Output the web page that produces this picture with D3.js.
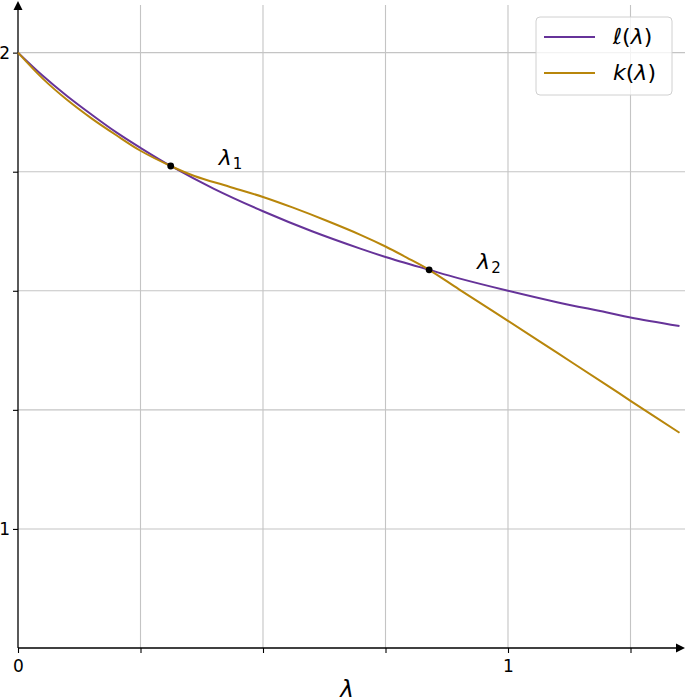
<!DOCTYPE html>
<html>
<head>
<meta charset="utf-8">
<script src="https://cdn.jsdelivr.net/npm/d3@7"></script>
<style>
  body { margin: 0; background: #fff; }
  svg { display: block; font-family: "DejaVu Sans", sans-serif; }
</style>
</head>
<body>
<svg id="chart" width="685" height="697"></svg>
<script>
// values
const ellLambdas = [0, 0.05, 0.1, 0.15, 0.2, 0.25, 0.3116, 0.4, 0.5, 0.6, 0.7, 0.75, 0.839, 0.9, 1.0, 1.1, 1.2, 1.25, 1.35]
const ellValues = [2.0, 1.952, 1.909, 1.870, 1.833, 1.800, 1.762, 1.714, 1.667, 1.625, 1.588, 1.571, 1.544, 1.526, 1.500, 1.476, 1.455, 1.444, 1.426]
const kLambdas = [0, 0.05, 0.1, 0.15, 0.2, 0.25, 0.3116, 0.36, 0.43, 0.5, 0.56, 0.63, 0.7, 0.75, 0.8, 0.839, 0.9, 1.0, 1.1, 1.2, 1.25, 1.35]
const kValues = [2.0, 1.946, 1.901, 1.862, 1.827, 1.794, 1.762, 1.741, 1.719, 1.697, 1.675, 1.647, 1.617, 1.593, 1.566, 1.544, 1.503, 1.437, 1.370, 1.303, 1.269, 1.202]
const crossings = [{ x: 0.3116, y: 1.762, label: '1' }, { x: 0.839, y: 1.544, label: '2' }]
const xTicks = [0, 0.25, 0.5, 0.75, 1, 1.25]
const yTicks = [1, 1.25, 1.5, 1.75, 2]
const xTickLabels = { 0: '0', 1: '1' }
const yTickLabels = { 1: '1', 2: '2' }

const svg = d3.select('#chart')
const x = d3.scaleLinear().domain([0, 1.36]).range([18, 684.4])
const y = d3.scaleLinear().domain([0.75, 2.1]).range([648, 5])

// grid
svg.append('g').selectAll('line').data(xTicks.slice(1)).join('line')
  .attr('x1', d => x(d)).attr('x2', d => x(d))
  .attr('y1', y(2.1)).attr('y2', y(0.75))
  .attr('stroke', '#c4c4c4').attr('stroke-width', 1.1)
svg.append('g').selectAll('line').data(yTicks).join('line')
  .attr('x1', x(0)).attr('x2', 685)
  .attr('y1', d => y(d)).attr('y2', d => y(d))
  .attr('stroke', '#c4c4c4').attr('stroke-width', 1.1)

// axes through the origin, with arrow heads
const xAxis = d3.axisBottom(x).tickValues(xTicks).tickSize(5).tickSizeOuter(0)
  .tickFormat(d => xTickLabels[d] || '')
const yAxis = d3.axisLeft(y).tickValues(yTicks).tickSize(5).tickSizeOuter(0)
  .tickFormat(d => yTickLabels[d] || '')

const gx = svg.append('g').attr('transform', `translate(0,${y(0.75)})`).call(xAxis)
gx.select('.domain').remove()
gx.selectAll('line').attr('stroke', '#000').attr('stroke-width', 1.1)
gx.selectAll('text').attr('font-size', 17).attr('font-family', 'DejaVu Sans').attr('dy', '0.95em')

const gy = svg.append('g').attr('transform', `translate(${x(0)},0)`).call(yAxis)
gy.select('.domain').remove()
gy.selectAll('line').attr('stroke', '#000').attr('stroke-width', 1.1)
gy.selectAll('text').attr('font-size', 17).attr('font-family', 'DejaVu Sans').attr('x', -8)

svg.append('line').attr('x1', x(0)).attr('x2', 678).attr('y1', y(0.75)).attr('y2', y(0.75))
  .attr('stroke', '#000').attr('stroke-width', 1.3)
svg.append('line').attr('x1', x(0)).attr('x2', x(0)).attr('y1', y(0.75)).attr('y2', 8)
  .attr('stroke', '#000').attr('stroke-width', 1.3)
svg.append('path').attr('d', `M685,${y(0.75)} L676,${y(0.75) - 4.5} L676,${y(0.75) + 4.5} Z`).attr('fill', '#000')
svg.append('path').attr('d', `M${x(0)},1 L${x(0) - 4.5},10 L${x(0) + 4.5},10 Z`).attr('fill', '#000')

// curves
const line = d3.line().x(d => x(d[0])).y(d => y(d[1])).curve(d3.curveCatmullRom.alpha(0.5))
svg.append('path').datum(d3.zip(ellLambdas, ellValues))
  .attr('d', line).attr('fill', 'none').attr('stroke', '#663399').attr('stroke-width', 2)
svg.append('path').datum(d3.zip(kLambdas, kValues))
  .attr('d', line).attr('fill', 'none').attr('stroke', '#b8860b').attr('stroke-width', 2)

// crossing points
svg.append('g').selectAll('circle').data(crossings).join('circle')
  .attr('cx', d => x(d.x)).attr('cy', d => y(d.y)).attr('r', 3.4).attr('fill', '#000')

const lab = svg.append('g').selectAll('text').data(crossings).join('text')
  .attr('x', d => x(d.x) + 48).attr('y', d => y(d.y) - 1)
lab.append('tspan').text('λ').attr('font-style', 'italic').attr('font-size', 22)
lab.append('tspan').text(d => d.label).attr('font-size', 15).attr('dy', 4).attr('dx', 1)

// x label
svg.append('text').attr('x', 347).attr('y', 697).attr('text-anchor', 'middle')
  .attr('font-size', 23).attr('font-style', 'italic').text('λ')

// legend
const legend = svg.append('g')
legend.append('rect').attr('x', 536).attr('y', 17).attr('width', 136).attr('height', 78)
  .attr('rx', 4).attr('fill', '#fff').attr('fill-opacity', 0.8).attr('stroke', '#d0d0d0')
const entries = [{ name: 'ℓ', color: '#663399' }, { name: 'k', color: '#b8860b' }]
entries.forEach((e, i) => {
  const cy = 37 + i * 36
  legend.append('line').attr('x1', 544).attr('x2', 595).attr('y1', cy).attr('y2', cy)
    .attr('stroke', e.color).attr('stroke-width', 2)
  const t = legend.append('text').attr('x', 613).attr('y', cy + 7).attr('font-size', 22)
  t.append('tspan').text(e.name).attr('font-style', 'italic')
  t.append('tspan').text('(')
  t.append('tspan').text('λ').attr('font-style', 'italic')
  t.append('tspan').text(')')
})
</script>
</body>
</html>
